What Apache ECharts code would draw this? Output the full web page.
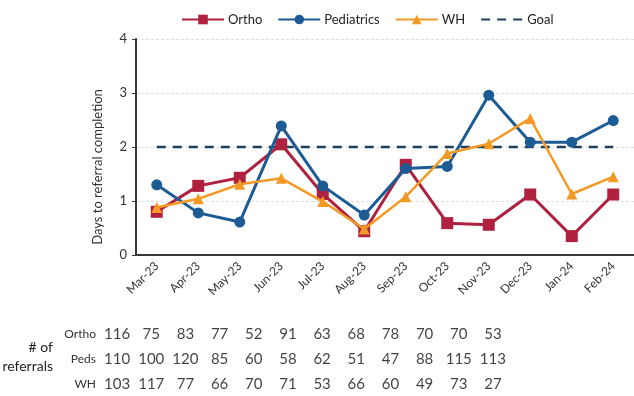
<!DOCTYPE html>
<html>
<head>
<meta charset="utf-8">
<script src="https://cdn.jsdelivr.net/npm/echarts@6/dist/echarts.min.js"></script>
<style>
  html, body { margin: 0; padding: 0; background: #fff; }
  #chart { width: 634px; height: 396px; }
</style>
</head>
<body>
<div id="chart"></div>
<script>
// Monthly average days to referral completion, by service line
const months = ['Mar-23','Apr-23','May-23','Jun-23','Jul-23','Aug-23','Sep-23','Oct-23','Nov-23','Dec-23','Jan-24','Feb-24'];
const ortho = [0.80, 1.28, 1.43, 2.05, 1.13, 0.44, 1.67, 0.59, 0.56, 1.12, 0.35, 1.12];
const peds  = [1.30, 0.78, 0.61, 2.39, 1.28, 0.74, 1.60, 1.64, 2.96, 2.09, 2.09, 2.49];
const wh    = [0.88, 1.04, 1.31, 1.42, 0.99, 0.48, 1.08, 1.88, 2.06, 2.53, 1.13, 1.45];
const goal  = [2, 2, 2, 2, 2, 2, 2, 2, 2, 2, 2, 2];
const yTicks = [0, 1, 2, 3, 4];

// Number of referrals per month
const tableRows = ['Ortho', 'Peds', 'WH'];
const orthoCount = [116, 75, 83, 77, 52, 91, 63, 68, 78, 70, 70, 53];
const pedsCount  = [110, 100, 120, 85, 60, 58, 62, 51, 47, 88, 115, 113];
const whCount    = [103, 117, 77, 66, 70, 71, 53, 66, 60, 49, 73, 27];

const FONT = 'Lato, "Open Sans", sans-serif';
const C_ORTHO = '#B0203F';
const C_PEDS = '#1C5B94';
const C_WH = '#F29A25';
const C_GOAL = '#1E3D5C';

const tableCells = [];
[orthoCount, pedsCount, whCount].forEach((row, r) => {
  row.forEach((v, i) => tableCells.push([i, r, v]));
});

const chart = echarts.init(document.getElementById('chart'));
chart.setOption({
  animation: false,
  backgroundColor: '#fff',
  textStyle: { fontFamily: FONT },
  legend: {
    top: 8,
    left: 176,
    itemWidth: 42,
    itemHeight: 12,
    itemGap: 15,
    data: ['Ortho', 'Pediatrics', 'WH', { name: 'Goal', itemStyle: { opacity: 0 } }],
    textStyle: { fontFamily: FONT, fontSize: 13, color: '#222', padding: [0, 0, 0, -1] }
  },
  graphic: [
    {
      type: 'text', x: 98, y: 167, rotation: Math.PI / 2,
      style: { text: 'Days to referral completion', font: '13px ' + FONT, fill: '#333', textAlign: 'center', textVerticalAlign: 'middle' }
    },
    {
      type: 'text', x: 53, y: 357,
      style: { text: '# of\nreferrals', font: '14px ' + FONT, fill: '#222', textAlign: 'right', textVerticalAlign: 'middle', lineHeight: 19 }
    }
  ],
  grid: [
    { left: 136, top: 39, width: 499, height: 216 },
    { left: 100, top: 322, width: 410, height: 75 }
  ],
  xAxis: [
    {
      type: 'category', gridIndex: 0, data: months, boundaryGap: true,
      axisLine: { lineStyle: { color: '#3a3a3a', width: 2 } },
      axisTick: { show: false },
      axisLabel: { rotate: 45, fontSize: 12, color: '#333', margin: 9, interval: 0 }
    },
    {
      type: 'category', gridIndex: 1, data: months, show: false
    }
  ],
  yAxis: [
    {
      type: 'value', gridIndex: 0, min: yTicks[0], max: yTicks[yTicks.length - 1], interval: 1,
      axisLine: { show: true, lineStyle: { color: '#3a3a3a', width: 2 } },
      axisTick: { show: true, length: 4, lineStyle: { color: '#3a3a3a' } },
      axisLabel: { fontSize: 13, color: '#333', margin: 9 },
      splitLine: { lineStyle: { color: '#dedede', width: 1, type: [3, 2] } }
    },
    {
      type: 'category', gridIndex: 1, data: tableRows, inverse: true,
      axisLine: { show: false }, axisTick: { show: false }, splitLine: { show: false },
      axisLabel: { fontSize: 12, color: '#333', margin: 4 }
    }
  ],
  series: [
    {
      name: 'Ortho', type: 'line', data: ortho, xAxisIndex: 0, yAxisIndex: 0,
      symbol: 'rect', symbolSize: 12, z: 3,
      lineStyle: { color: C_ORTHO, width: 3 },
      itemStyle: { color: C_ORTHO }
    },
    {
      name: 'Pediatrics', type: 'line', data: peds, xAxisIndex: 0, yAxisIndex: 0,
      symbol: 'circle', symbolSize: 11, z: 4,
      lineStyle: { color: C_PEDS, width: 3 },
      itemStyle: { color: C_PEDS }
    },
    {
      name: 'WH', type: 'line', data: wh, xAxisIndex: 0, yAxisIndex: 0,
      symbol: 'triangle', symbolSize: 11, z: 5,
      lineStyle: { color: C_WH, width: 2.5 },
      itemStyle: { color: C_WH }
    },
    {
      name: 'Goal', type: 'line', data: goal, xAxisIndex: 0, yAxisIndex: 0,
      symbol: 'none', z: 2,
      lineStyle: { color: C_GOAL, width: 2.5, type: [9, 7] },
      itemStyle: { color: C_GOAL }
    },
    {
      name: 'referrals', type: 'scatter', data: tableCells, xAxisIndex: 1, yAxisIndex: 1,
      symbolSize: 1, itemStyle: { color: 'rgba(0,0,0,0)' },
      label: {
        show: true, position: 'inside', fontSize: 15, color: '#111', fontFamily: FONT,
        formatter: p => String(p.value[2])
      }
    }
  ]
});
</script>
</body>
</html>
